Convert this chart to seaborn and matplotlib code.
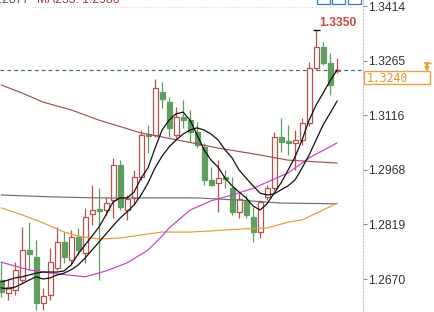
import matplotlib
matplotlib.use("Agg")
import matplotlib.pyplot as plt
import seaborn as sns
import pandas as pd
from matplotlib.patches import Rectangle

# ---------------- data ----------------
opens = [1.2667, 1.2632, 1.2640, 1.2667, 1.2749, 1.2730, 1.2605, 1.2627, 1.2700, 1.2771,
         1.2722, 1.2785, 1.2741, 1.2847, 1.2861, 1.2858, 1.2885, 1.2981, 1.2858, 1.2891,
         1.2948, 1.3065, 1.3063, 1.3180, 1.3152, 1.3063, 1.3112, 1.3103, 1.3071, 1.3030,
         1.2940, 1.2932, 1.2948, 1.2917, 1.2853, 1.2885, 1.2839, 1.2798, 1.2894, 1.2917,
         1.3057, 1.3046, 1.3041, 1.3049, 1.3095, 1.3245, 1.3302, 1.3259, 1.3237]
closes = [1.2635, 1.2648, 1.2695, 1.2749, 1.2738, 1.2605, 1.2624, 1.2716, 1.2771, 1.2730,
          1.2785, 1.2749, 1.2839, 1.2858, 1.2855, 1.2877, 1.2981, 1.2866, 1.2888, 1.2948,
          1.3063, 1.3060, 1.3191, 1.3161, 1.3082, 1.3112, 1.3103, 1.3071, 1.3035, 1.2940,
          1.2926, 1.2945, 1.2943, 1.2853, 1.2888, 1.2845, 1.2798, 1.2880, 1.2917, 1.3057,
          1.3043, 1.3041, 1.3049, 1.3095, 1.3245, 1.3302, 1.3259, 1.3199, 1.3240]
highs = [1.2716, 1.2667, 1.2716, 1.2812, 1.2825, 1.2776, 1.2646, 1.2755, 1.2812, 1.2798,
         1.2804, 1.2809, 1.2864, 1.2926, 1.2917, 1.2894, 1.3000, 1.2994, 1.2899, 1.2967,
         1.3076, 1.3090, 1.3215, 1.3207, 1.3166, 1.3139, 1.3158, 1.3131, 1.3098, 1.3041,
         1.2975, 1.2994, 1.2967, 1.2948, 1.2904, 1.2899, 1.2866, 1.2885, 1.2926, 1.3071,
         1.3109, 1.3090, 1.3076, 1.3109, 1.3261, 1.3350, 1.3316, 1.3286, 1.3272]
lows = [1.2621, 1.2613, 1.2627, 1.2659, 1.2695, 1.2585, 1.2585, 1.2613, 1.2695, 1.2714,
        1.2708, 1.2736, 1.2714, 1.2817, 1.2667, 1.2845, 1.2836, 1.2858, 1.2831, 1.2872,
        1.2940, 1.3013, 1.3057, 1.3136, 1.3057, 1.3054, 1.3082, 1.3043, 1.3027, 1.2926,
        1.2924, 1.2853, 1.2917, 1.2845, 1.2836, 1.2836, 1.2771, 1.2782, 1.2885, 1.2913,
        1.3016, 1.3008, 1.2967, 1.3035, 1.3087, 1.3240, 1.3253, 1.3172, 1.3232]

ma5 = [1.2662, 1.2667, 1.2673, 1.2676, 1.2681, 1.2686, 1.2689, 1.2689, 1.2689, 1.2692,
       1.2708, 1.2738, 1.2763, 1.2787, 1.2812, 1.2845, 1.2880, 1.2891, 1.2891, 1.2907,
       1.2945, 1.2973, 1.3027, 1.3076, 1.3103, 1.3120, 1.3125, 1.3103, 1.3063, 1.3022,
       1.2994, 1.2975, 1.2945, 1.2924, 1.2907, 1.2891, 1.2869, 1.2858, 1.2875, 1.2904,
       1.2932, 1.2967, 1.3003, 1.3049, 1.3103, 1.3144, 1.3177, 1.3210, 1.3240]
ma10 = [1.2646, 1.2643, 1.2648, 1.2657, 1.2667, 1.2676, 1.2670, 1.2673, 1.2681, 1.2686,
        1.2695, 1.2708, 1.2727, 1.2749, 1.2771, 1.2793, 1.2815, 1.2836, 1.2853, 1.2872,
        1.2899, 1.2932, 1.2973, 1.3005, 1.3030, 1.3049, 1.3065, 1.3076, 1.3082, 1.3076,
        1.3065, 1.3049, 1.3022, 1.3000, 1.2967, 1.2945, 1.2924, 1.2904, 1.2899, 1.2902,
        1.2913, 1.2924, 1.2940, 1.2973, 1.3008, 1.3049, 1.3090, 1.3122, 1.3155]

brown_idx = [0, 3, 6, 10, 14, 20, 26, 31, 37, 41, 48]
brown_ma = [1.3199, 1.3177, 1.3152, 1.3131, 1.3103, 1.3068, 1.3046, 1.3027, 1.3008, 1.2994, 1.2986]
gray_idx = [0, 7, 14, 21, 28, 34, 40, 48]
gray_ma = [1.2899, 1.2894, 1.2891, 1.2891, 1.2891, 1.2885, 1.2877, 1.2875]
orange_idx = [0, 3, 6, 9, 11, 14, 17, 20, 23, 27, 30, 34, 38, 41, 43, 46, 48]
orange_ma = [1.2864, 1.2845, 1.2823, 1.2798, 1.2787, 1.2779, 1.2782, 1.2790, 1.2798, 1.2798,
             1.2801, 1.2806, 1.2809, 1.2825, 1.2831, 1.2858, 1.2877]
magenta_idx = [0, 4, 8, 12, 15, 18, 21, 23, 24, 27, 30, 33, 36, 38, 41, 44, 48]
magenta_ma = [1.2716, 1.2695, 1.2684, 1.2676, 1.2692, 1.2714, 1.2749, 1.2787, 1.2809, 1.2858,
              1.2883, 1.2899, 1.2917, 1.2934, 1.2959, 1.3000, 1.3041]

ytick_values = [1.3414, 1.3265, 1.3116, 1.2968, 1.2819, 1.2670]
ytick_labels = ["1.3414", "1.3265", "1.3116", "1.2968", "1.2819", "1.2670"]
last_price = 1.3240
last_label = "1.3240"
high_label = "1.3350"
top_gray_text = "1.2877"
top_brown_text = "MA233: 1.2986"

# ---------------- style ----------------
sns.set_style("white")
plt.rcParams['font.family'] = ['Liberation Sans', 'DejaVu Sans']

UP = "#b5514e"
DOWN = "#5e9e5e"
W, H = 435, 312
fig = plt.figure(figsize=(W / 100, H / 100), dpi=100)
fig.patch.set_facecolor("white")
ax = fig.add_axes([0, 0, 363 / W, 1])
ax.set_facecolor("white")

# last price dashed line
ax.axhline(last_price, color="#3f6f86", lw=0.9, ls=(0, (3, 2.5)), zorder=1)

# moving averages via seaborn
def ma_line(xs, ys, color, lw=0.85, z=4):
    df = pd.DataFrame({"x": xs, "y": ys})
    sns.lineplot(data=df, x="x", y="y", ax=ax, color=color, lw=lw,
                 legend=False, zorder=z, estimator=None, sort=True)

ma_line(brown_idx, brown_ma, "#a4504e")
ma_line(gray_idx, gray_ma, "#707070")
ma_line(orange_idx, orange_ma, "#e39a3c")
ma_line(magenta_idx, magenta_ma, "#c83cc8")
idx = list(range(len(opens)))
ma_line(idx, ma10, "#111111", lw=0.9, z=5)
ma_line(idx, ma5, "#111111", lw=0.9, z=5)

# candles
for i, (o, c, h, l) in enumerate(zip(opens, closes, highs, lows)):
    up = c >= o
    col = UP if up else DOWN
    ax.vlines(i, l, h, color=col, lw=0.9, zorder=2)
    ax.bar(i, max(abs(c - o), 0.00012), bottom=min(o, c), width=0.72,
           facecolor="white" if up else DOWN, edgecolor=col, lw=0.9, zorder=3)

# high marker
ax.hlines(highs[45], 44.55, 45.6, color="black", lw=0.9, zorder=6)

ax.set_xlim(-0.15, 51.7)
ax.set_ylim(1.25801, 1.34304)
ax.set_xlabel("")
ax.set_ylabel("")
ax.set_xticks([])
ax.yaxis.tick_right()
ax.set_yticks(ytick_values)
ax.set_yticklabels(ytick_labels)
ax.tick_params(axis="y", length=3, width=0.8, color="#888888", labelsize=8.7,
               labelcolor="#333333", pad=1, right=True, left=False)
for s in ["left", "top", "bottom"]:
    ax.spines[s].set_visible(False)
ax.spines["right"].set_visible(True)
ax.spines["right"].set_color("#c8c8c8")
ax.spines["right"].set_linestyle(":")
ax.spines["right"].set_linewidth(0.9)

# overlay in pixel coordinates for annotations
ov = fig.add_axes([0, 0, 1, 1])
ov.set_xlim(0, W)
ov.set_ylim(H, 0)
ov.axis("off")
ov.patch.set_alpha(0)

ov.hlines(6.5, 32, 363, color="#d4d4d4", lw=0.8, ls=":")
ov.add_patch(Rectangle((364.5, 71), 66, 13, fill=False, ec="#e8a23c", lw=1))
ov.text(366.5, 78, last_label, ha="left", va="center", fontsize=8.3,
        family="DejaVu Sans Mono", color="#e0962e")
ov.hlines(62.5, 424, 431, color="#e8a23c", lw=1)
ov.plot([427.5, 427.5], [65, 68.5], ls="none", marker="v", ms=4.2, color="#e8a23c", mew=0)

ov.text(338, 22.5, high_label, ha="center", va="center", fontsize=8.7,
        fontweight="bold", color="#cc4444")

ov.text(120, 3, top_brown_text, ha="right", va="baseline", fontsize=8.7, color="#9a3a3a")
ov.text(29, 3, top_gray_text, ha="right", va="baseline", fontsize=8.7, color="#555555")

for x0 in (317, 332, 348):
    ov.add_patch(Rectangle((x0, -6), 13, 10, fill=False, ec="#3a78c0", lw=0.9))

fig.savefig("out.png", dpi=100, facecolor="white")
